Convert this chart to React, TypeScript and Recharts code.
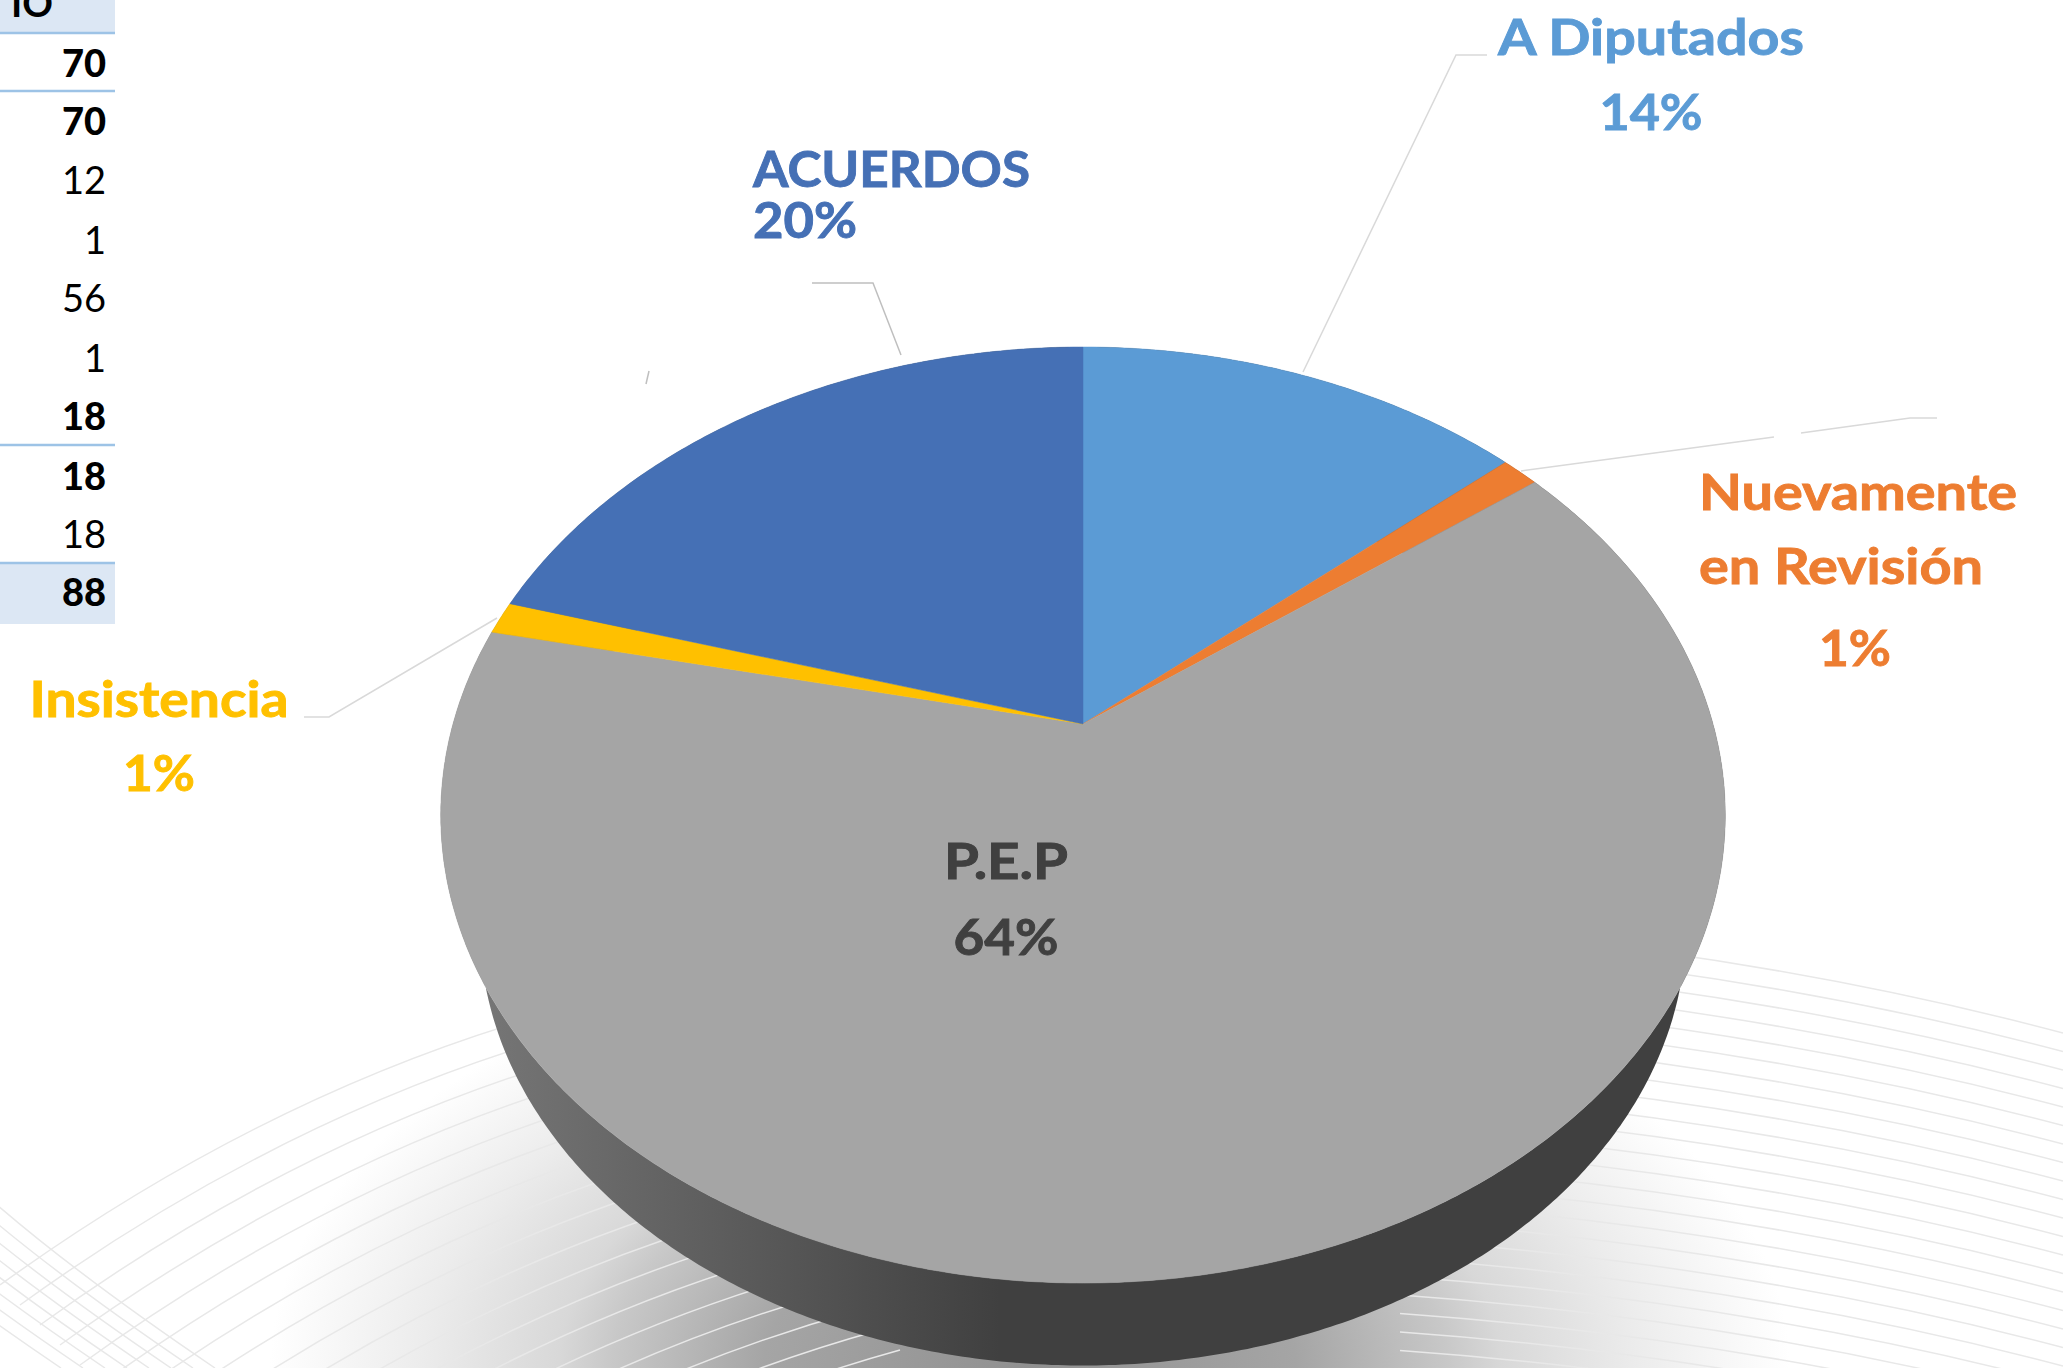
import { Pie, PieChart } from 'recharts';

const categories = ['A Diputados', 'Nuevamente en Revisión', 'P.E.P', 'Insistencia', 'ACUERDOS'];
const values = [12, 1, 56, 1, 18];
const sliceColors = ['#5b9bd5', '#ed7d31', '#a5a5a5', '#ffc000', '#4570b5'];
const labelColors = ['#5b9bd5', '#ed7d31', '#404040', '#ffc000', '#4570b5'];

// text fragment of the table at the top left
const tableValues = ['70', '70', '12', '1', '56', '1', '18', '18', '18', '88'];
const tableBold = [true, true, false, false, false, false, true, true, false, true];
const tableBaselines = [77, 135, 194, 254, 312, 372, 430, 490, 548, 606];
const tableRules = [33, 91, 445, 563];

const chartData = categories.map((name, i) => ({ name, value: values[i], fill: sliceColors[i] }));

const W = 2063;
const H = 1368;
const PIE_CX = 1083;
const PIE_CY = 724;
const PIE_R = 630;
const TILT = 0.7148;
const PERSPECTIVE = 0.1945;
const FONT = 'Lato, sans-serif';
const FONT_SIZE = 50;

// label placement, one entry per slice; w stretches the text to the width it has in the reference
const callouts = [
  { lines: [{ t: 'A Diputados', x: 1651, y: 55, w: 306 }], pct: { x: 1651, y: 130, w: 103 }, anchor: 'middle', leader: ['M1303 372L1456 55L1487 55'], stroke: '#d9d9d9' },
  {
    lines: [{ t: 'Nuevamente', x: 1699, y: 510, w: 318 }, { t: 'en Revisión', x: 1699, y: 584, w: 284 }],
    pct: { x: 1855, y: 666, w: 72 },
    anchor: 'start',
    leader: ['M1521 471L1774 437', 'M1801 433L1910 418L1937 418'],
    stroke: '#d9d9d9',
  },
  { lines: [{ t: 'P.E.P', x: 1006, y: 879, w: 124 }], pct: { x: 1006, y: 955, w: 105 }, anchor: 'middle', leader: [], stroke: 'none' },
  { lines: [{ t: 'Insistencia', x: 159, y: 717, w: 259 }], pct: { x: 159, y: 791, w: 72 }, anchor: 'middle', leader: ['M497 618L329 717L304 717'], stroke: '#d9d9d9' },
  {
    lines: [{ t: 'ACUERDOS', x: 753, y: 187, w: 277 }],
    pct: { x: 753, y: 238, w: 104 },
    anchor: 'start',
    leader: ['M812 283L873 283L901 355', 'M649 371L646 384'],
    stroke: '#bfbfbf',
  },
];

const RAD = Math.PI / 180;

// the pie lies on a tilted plane, so angles go through a perspective projection
function topPoint(deg: number, cx: number, cy: number, r: number) {
  const X = Math.cos(deg * RAD);
  const Y = Math.sin(deg * RAD);
  const d = 1 + PERSPECTIVE * Y;
  return [cx + (r * X) / d, cy - (r * TILT * Y) / d];
}

// bottom face of the disc: smaller and lower than the top face
function bottomPoint(deg: number, cx: number, cy: number, r: number) {
  const [x, y] = topPoint(deg, cx, cy, r);
  return [cx + (x - cx) * 0.939, cy + 202 + (y - cy - 91) * 0.939];
}

function arc(start: number, end: number, fn: (d: number) => number[]) {
  const n = Math.max(2, Math.ceil(Math.abs(end - start) * 2));
  const pts = [];
  for (let i = 0; i <= n; i++) {
    pts.push(fn(start + ((end - start) * i) / n));
  }
  return pts;
}

const toPath = (pts: number[][]) => pts.map((p, i) => `${i ? 'L' : 'M'}${p[0].toFixed(1)} ${p[1].toFixed(1)}`).join('');

const TopSlice = (props: any) => {
  const { cx, cy, outerRadius, startAngle, endAngle, fill } = props;
  const pts = arc(startAngle, endAngle, (d) => topPoint(d, cx, cy, outerRadius));
  return <path d={`M${cx} ${cy}${toPath(pts).replace('M', 'L')}Z`} fill={fill} stroke={fill} strokeWidth={0.5} />;
};

const WallSlice = (props: any) => {
  const { cx, cy, outerRadius, startAngle, endAngle } = props;
  const upper = arc(startAngle, endAngle, (d) => topPoint(d, cx, cy, outerRadius));
  const lower = arc(startAngle, endAngle, (d) => bottomPoint(d, cx, cy, outerRadius)).reverse();
  return <path d={`${toPath(upper)}${toPath(lower).replace('M', 'L')}Z`} fill="url(#rimFill)" />;
};

const renderLabel = (props: any) => {
  const c = callouts[props.index];
  const color = labelColors[props.index];
  return (
    <g key={props.index} fontFamily={FONT} fontWeight={700} fontSize={FONT_SIZE} fill={color} stroke={color} strokeWidth={0.9}>
      {c.leader.map((d) => (
        <path key={d} d={d} fill="none" stroke={c.stroke} strokeWidth={1.5} />
      ))}
      {c.lines.map((l) => (
        <text key={l.t} x={l.x} y={l.y} textAnchor={c.anchor as any} textLength={l.w} lengthAdjust="spacingAndGlyphs">
          {l.t}
        </text>
      ))}
      <text
        x={c.pct.x}
        y={c.pct.y}
        textAnchor={props.index === 1 ? 'middle' : (c.anchor as any)}
        textLength={c.pct.w}
        lengthAdjust="spacingAndGlyphs"
      >
        {`${Math.round(props.percent * 100)}%`}
      </text>
    </g>
  );
};

const rightLines = Array.from({ length: 27 }, (_, i) => i);
const leftLines = Array.from({ length: 18 }, (_, i) => i);
const crossLines = Array.from({ length: 8 }, (_, i) => i);

function Backdrop() {
  return (
    <svg width={W} height={H} style={{ position: 'absolute', left: 0, top: 0 }}>
      <defs>
        <radialGradient id="floor" gradientUnits="userSpaceOnUse" cx={0} cy={0} r={1} gradientTransform="translate(1030 1368) scale(760 440)">
          <stop offset="0" stopColor="#909090" />
          <stop offset="0.35" stopColor="#a5a5a5" />
          <stop offset="0.55" stopColor="#c8c8c8" />
          <stop offset="0.62" stopColor="#d8d8d8" />
          <stop offset="0.8" stopColor="#ececec" />
          <stop offset="1" stopColor="#ffffff" />
        </radialGradient>
      </defs>
      <rect width={W} height={H} fill="#ffffff" />
      <rect y={920} width={W} height={H - 920} fill="url(#floor)" />
      <g fill="none" stroke="#e8e8e8" strokeWidth={1.5}>
        {rightLines.map((i) => (
          <path key={i} d="M1400 925Q1750 950 2063 1033" transform={`translate(0 ${i * 18.5})`} />
        ))}
        {leftLines.map((i) => (
          <path key={i} d="M0 1285Q270 1090 560 1010" transform={`translate(${i * 20} ${i * 20})`} />
        ))}
        {crossLines.map((i) => (
          <path key={i} d="M-20 1190Q70 1270 215 1368" transform={`translate(${-i * 22} 0)`} />
        ))}
      </g>
    </svg>
  );
}

function TableFragment() {
  return (
    <svg width={130} height={640} style={{ position: 'absolute', left: 0, top: 0 }}>
      <rect width={115} height={33} fill="#dce7f4" />
      <rect y={563} width={115} height={61} fill="#dce7f4" />
      {tableRules.map((y) => (
        <line key={y} x1={0} x2={115} y1={y} y2={y} stroke="#9dc3e6" strokeWidth={2.5} />
      ))}
      <text x={53} y={17} textAnchor="end" fontFamily={FONT} fontWeight={700} fontSize={38} fill="#000">
        IO
      </text>
      {tableValues.map((v, i) => (
        <text key={i} x={106} y={tableBaselines[i]} textAnchor="end" fontFamily={FONT} fontWeight={tableBold[i] ? 900 : 400} fontSize={38} fill="#000">
          {v}
        </text>
      ))}
    </svg>
  );
}

export default function App() {
  return (
    <div style={{ position: 'absolute', left: 0, top: 0, width: W, height: H, overflow: 'hidden', background: '#fff' }}>
      <Backdrop />
      <svg width={0} height={0} style={{ position: 'absolute' }}>
        <defs>
          <linearGradient id="rimFill" gradientUnits="userSpaceOnUse" x1={470} y1={0} x2={1000} y2={0}>
            <stop offset="0" stopColor="#777777" />
            <stop offset="0.6" stopColor="#565656" />
            <stop offset="1" stopColor="#404040" />
          </linearGradient>
        </defs>
      </svg>
      <div style={{ position: 'absolute', left: 0, top: 0 }}>
        <PieChart width={W} height={H} margin={{ top: 0, right: 0, bottom: 0, left: 0 }}>
          <Pie
            data={chartData}
            dataKey="value"
            cx={PIE_CX}
            cy={PIE_CY}
            outerRadius={PIE_R}
            startAngle={90}
            endAngle={-270}
            stroke="none"
            shape={WallSlice}
            isAnimationActive={false}
          />
          <Pie
            data={chartData}
            dataKey="value"
            cx={PIE_CX}
            cy={PIE_CY}
            outerRadius={PIE_R}
            startAngle={90}
            endAngle={-270}
            stroke="none"
            shape={TopSlice}
            label={renderLabel}
            labelLine={false}
            isAnimationActive={false}
          />
        </PieChart>
      </div>
      <TableFragment />
    </div>
  );
}
